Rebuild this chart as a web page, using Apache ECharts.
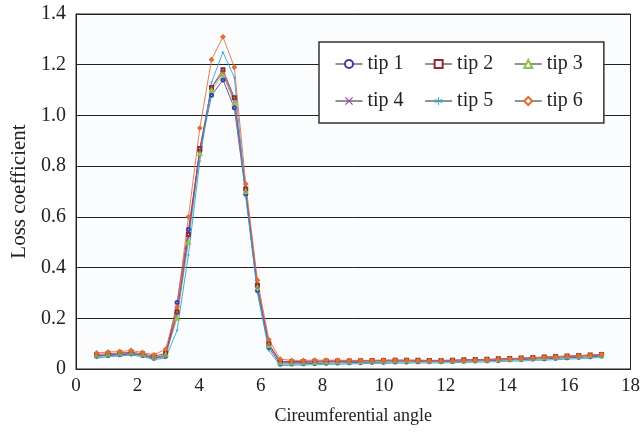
<!DOCTYPE html>
<html>
<head>
<meta charset="utf-8">
<script src="https://cdn.jsdelivr.net/npm/echarts@6/dist/echarts.min.js"></script>
<style>
html,body{margin:0;padding:0;background:#fff;}
#chart{width:643px;height:434px;}
</style>
</head>
<body>
<div id="chart"></div>
<script>
// Circumferential angle positions of the measurement points
var angles = [0.67,1.04,1.42,1.79,2.16,2.53,2.91,3.28,3.65,4.02,4.40,4.77,5.14,5.51,5.89,6.26,6.63,7.00,7.38,7.75,8.12,8.49,8.87,9.24,9.61,9.98,10.36,10.73,11.10,11.47,11.85,12.22,12.59,12.96,13.34,13.71,14.08,14.45,14.83,15.20,15.57,15.94,16.32,16.69,17.06];

var seriesNames = ['tip 1','tip 2','tip 3','tip 4','tip 5','tip 6'];

var tip1 = [0.050,0.053,0.056,0.059,0.053,0.042,0.050,0.262,0.55,0.86,1.08,1.14,1.03,0.69,0.31,0.085,0.020,
  0.020,0.021,0.022,0.023,0.024,0.025,0.026,0.027,0.027,0.028,0.028,0.029,0.029,0.029,0.030,0.031,0.032,0.033,0.034,0.036,0.037,0.039,0.040,0.042,0.044,0.046,0.048,0.051];
var tip2 = [0.057,0.060,0.063,0.066,0.060,0.050,0.062,0.225,0.53,0.87,1.11,1.18,1.07,0.71,0.33,0.100,0.030,
  0.029,0.030,0.031,0.032,0.032,0.032,0.033,0.034,0.034,0.035,0.035,0.035,0.034,0.034,0.035,0.036,0.037,0.038,0.040,0.041,0.043,0.045,0.047,0.049,0.051,0.053,0.055,0.057];
var tip3 = [0.054,0.057,0.060,0.063,0.057,0.046,0.056,0.200,0.50,0.85,1.10,1.16,1.05,0.70,0.32,0.092,0.025,
  0.024,0.025,0.026,0.027,0.028,0.029,0.030,0.031,0.031,0.032,0.032,0.033,0.032,0.032,0.033,0.034,0.035,0.036,0.037,0.039,0.040,0.042,0.044,0.046,0.048,0.050,0.052,0.054];
var tip4 = [0.052,0.055,0.058,0.061,0.055,0.044,0.053,0.215,0.52,0.86,1.11,1.17,1.06,0.70,0.32,0.095,0.027,
  0.026,0.027,0.028,0.029,0.030,0.030,0.031,0.032,0.032,0.033,0.033,0.033,0.033,0.033,0.034,0.035,0.036,0.037,0.038,0.040,0.041,0.043,0.045,0.047,0.049,0.051,0.053,0.055];
var tip5 = [0.043,0.048,0.052,0.055,0.049,0.037,0.043,0.152,0.45,0.82,1.13,1.25,1.15,0.68,0.30,0.073,0.013,
  0.015,0.016,0.017,0.018,0.019,0.020,0.021,0.022,0.022,0.023,0.023,0.024,0.024,0.024,0.025,0.026,0.027,0.028,0.029,0.031,0.032,0.034,0.035,0.037,0.039,0.041,0.043,0.046];
var tip6 = [0.063,0.067,0.069,0.073,0.065,0.056,0.078,0.245,0.60,0.95,1.22,1.31,1.19,0.73,0.35,0.116,0.039,
  0.034,0.034,0.035,0.035,0.035,0.034,0.034,0.034,0.035,0.035,0.034,0.033,0.032,0.032,0.033,0.034,0.035,0.036,0.038,0.040,0.042,0.044,0.046,0.048,0.050,0.052,0.055,0.058];

var xTicks = [0,2,4,6,8,10,12,14,16,18];
var yTicks = ['0','0.2','0.4','0.6','0.8','1.0','1.2','1.4'];

var allValues = [tip1,tip2,tip3,tip4,tip5,tip6];
var colors = ['#3b3da6','#8e2b2b','#8cc63f','#9a3da6','#1f9fe0','#e26a35'];
var xSym = 'path://M0,1L1,0L5,4L9,0L10,1L6,5L10,9L9,10L5,6L1,10L0,9L4,5Z';
var starSym = 'path://M4.5,0L5.5,0L5.5,10L4.5,10Z M0.92,2.07L9.58,7.07L9.08,7.93L0.42,2.93Z M9.58,2.93L0.92,7.93L0.42,7.07L9.08,2.07Z';
var symbols = ['emptyCircle','emptyRect','emptyTriangle',xSym,starSym,'emptyDiamond'];

var FONT = '"Liberation Serif", "Times New Roman", serif';

var series = seriesNames.map(function(name, k){
  return {
    name: name,
    type: 'line',
    data: angles.map(function(a, i){ return [a, allValues[k][i]]; }),
    symbol: symbols[k],
    symbolSize: 3,
    showSymbol: true,
    itemStyle: {color: colors[k]},
    lineStyle: {color: colors[k], width: 1, opacity: 0.85},
    z: 3
  };
});

var chart = echarts.init(document.getElementById('chart'), null, {renderer: 'canvas'});
chart.setOption({
  animation: false,
  backgroundColor: '#ffffff',
  textStyle: {fontFamily: FONT},
  grid: {left: 76, right: 12, top: 14, bottom: 65, show: true, borderColor: '#222', borderWidth: 1, backgroundColor: '#fbfcfe'},
  legend: {
    data: seriesNames,
    left: 319, top: 42,
    width: 262,
    padding: [12, 17, 12, 16],
    itemWidth: 27, itemHeight: 10, itemGap: 17,
    backgroundColor: '#ffffff',
    borderColor: '#333', borderWidth: 1.5,
    lineStyle: {color: '#222', width: 1, opacity: 1},
    formatter: function(name){ return name + '\u2009'; },
    textStyle: {fontFamily: FONT, fontSize: 20, color: '#222'}
  },
  xAxis: {
    type: 'value', min: 0, max: 18, interval: 2,
    name: 'Cireumferential angle', nameLocation: 'middle', nameGap: 38,
    nameTextStyle: {fontFamily: FONT, fontSize: 18, color: '#222'},
    axisLine: {show: true, lineStyle: {color: '#222', width: 1}},
    axisTick: {show: false},
    splitLine: {show: false},
    axisLabel: {fontFamily: FONT, fontSize: 19, color: '#222', margin: 8,
      formatter: function(v){ return xTicks.indexOf(v) >= 0 ? String(v) : ''; }}
  },
  yAxis: {
    type: 'value', min: 0, max: 1.4, interval: 0.2,
    name: 'Loss coefficient', nameLocation: 'middle', nameGap: 44,
    nameTextStyle: {fontFamily: FONT, fontSize: 21, color: '#222'},
    axisLine: {show: true, lineStyle: {color: '#222', width: 1}},
    axisTick: {show: false},
    splitLine: {show: true, lineStyle: {color: '#222', width: 1}},
    axisLabel: {fontFamily: FONT, fontSize: 20, color: '#222', margin: 10,
      formatter: function(v){ var idx = Math.round(v / 0.2); return yTicks[idx]; }}
  },
  series: series
});
</script>
</body>
</html>
